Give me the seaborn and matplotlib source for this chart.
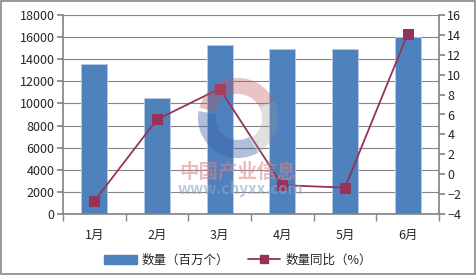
import matplotlib
matplotlib.use("Agg")
import matplotlib.pyplot as plt
import seaborn as sns
import pandas as pd
import numpy as np
from matplotlib.lines import Line2D
from matplotlib.patches import Patch, Rectangle, Wedge

months = ["1月", "2月", "3月", "4月", "5月", "6月"]
quantity = [13600, 10450, 15300, 14950, 14950, 16000]
yoy = [-2.7, 5.5, 8.6, -1.1, -1.35, 14.1]
label_bar = "数量（百万个）"
label_line = "数量同比（%）"

sns.set_theme(style="white")
plt.rcParams['font.family'] = ['Noto Sans CJK SC', 'DejaVu Sans']

bar_color = "#4F81BD"
line_color = "#953458"
grid_color = "#868686"

fig = plt.figure(figsize=(4.76, 2.75), dpi=100)
ax = fig.add_axes([63/476, 1-214/275, (439-63)/476, (214-15)/275])

df = pd.DataFrame({"month": months, "quantity": quantity, "yoy": yoy})
sns.barplot(data=df, x="month", y="quantity", color=bar_color, width=0.42,
            saturation=1, ax=ax, zorder=2)
for p in ax.patches:
    p.set_edgecolor("#B8CCE4")
    p.set_linewidth(0.6)

ax.set_ylim(0, 18000)
ax.set_yticks(np.arange(0, 18001, 2000))
ax.set_xlim(-0.5, 5.5)
ax.yaxis.grid(True, color=grid_color, linewidth=0.8, zorder=0)
ax.set_axisbelow(True)
ax.set_xlabel("")
ax.set_ylabel("")
for s in ["top", "right"]:
    ax.spines[s].set_visible(False)
ax.spines["left"].set_color(grid_color)
ax.spines["bottom"].set_color(grid_color)
ax.tick_params(axis="y", length=4, color=grid_color, labelsize=9, pad=2, direction="out", left=True)
ax.tick_params(axis="x", length=0, labelsize=9, pad=11)
ax.set_xticks(np.arange(-0.5, 6, 1), minor=True)
ax.tick_params(axis="x", which="minor", length=5, color=grid_color, bottom=True)

ax2 = ax.twinx()
sns.lineplot(data=df, x="month", y="yoy", color=line_color, marker="s", markersize=7,
             markeredgecolor=line_color, linewidth=1.3, ax=ax2, zorder=3)
ax2.set_ylim(-4, 16)
ax2.set_yticks(np.arange(-4, 17, 2))
ax2.set_ylabel("")
for s in ["top", "left", "bottom"]:
    ax2.spines[s].set_visible(False)
ax2.spines["right"].set_color(grid_color)
ax2.tick_params(axis="y", length=4, color=grid_color, labelsize=9, pad=2, right=True, direction="out")
ax2.set_yticklabels([f"{v}" if v >= 0 else f"\u2212{abs(v)}" for v in range(-4, 17, 2)])

# watermark overlay (pixel coordinates, y inverted)
ov = fig.add_axes([0, 0, 1, 1], zorder=5)
ov.set_xlim(0, 476)
ov.set_ylim(275, 0)
ov.axis("off")
ov.patch.set_alpha(0)
cx, cy, r = 238, 118, 40
ov.add_patch(Wedge((cx, cy), r, 60, 190, width=18, facecolor="#3A5FA8", alpha=0.4, lw=0))
ov.add_patch(Wedge((cx, cy), r, 195, 335, width=16, facecolor="#C0555E", alpha=0.35, lw=0))
ov.add_patch(Wedge((cx, cy), r, 335, 60, width=16, facecolor="#9A9A9A", alpha=0.3, lw=0))
ov.text(238, 172, "中国产业信息", color="#D9868A", alpha=0.55, fontsize=14,
        fontweight="bold", ha="center", va="center")
ov.text(240, 189, "www.chyxx.com", color="#8EA4C8", alpha=0.6, fontsize=11,
        fontweight="bold", ha="center", va="center")

handles = [Patch(facecolor=bar_color, edgecolor=bar_color),
           Line2D([0], [0], color=line_color, marker="s", markersize=6, linewidth=1.3)]
fig.legend(handles, [label_bar, label_line], loc="center", bbox_to_anchor=(0.5, 1-260/275),
           ncol=2, frameon=False, fontsize=9, handlelength=2.6, columnspacing=1.5,
           handletextpad=0.4)

fig.patches.append(Rectangle((0.003, 0.004), 0.994, 0.992, transform=fig.transFigure,
                             fill=False, edgecolor="#888888", linewidth=1.2))
fig.savefig("out.png", dpi=100)
